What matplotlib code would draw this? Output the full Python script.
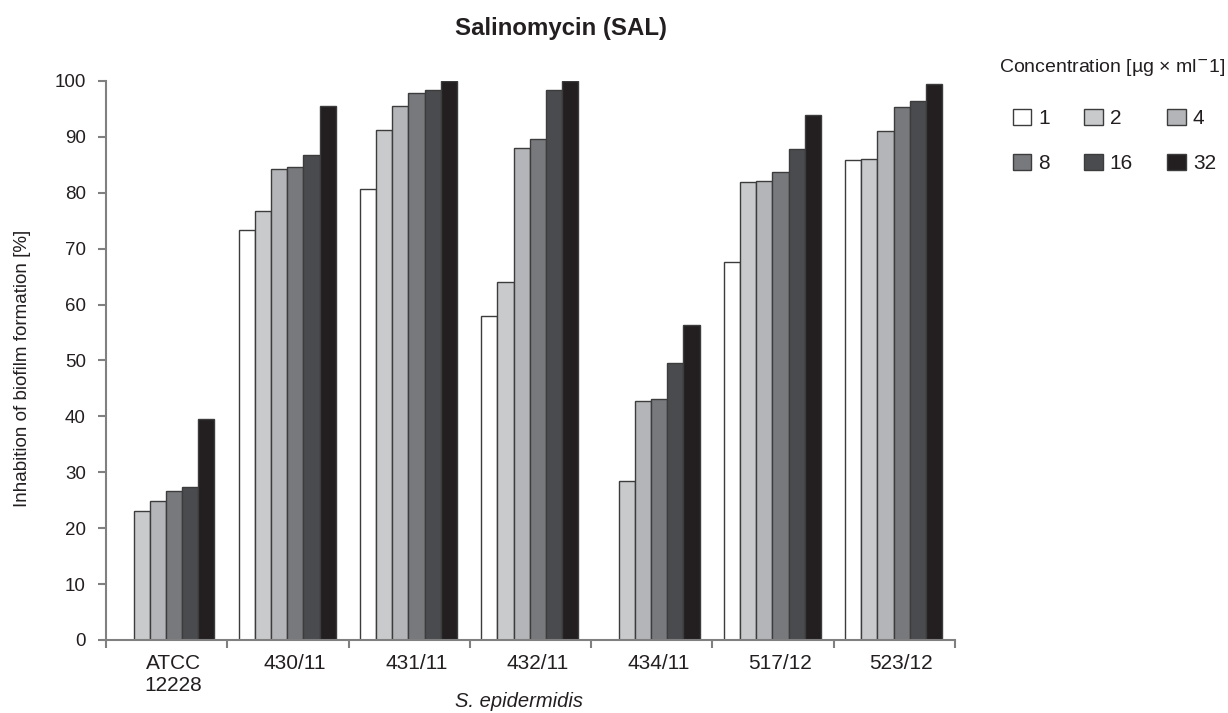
import numpy as np
import matplotlib.pyplot as plt
import matplotlib.transforms as mtransforms
from matplotlib.patches import Patch

plt.rcParams['font.family'] = ['Liberation Sans', 'DejaVu Sans']

strains = ['ATCC\n12228', '430/11', '431/11', '432/11', '434/11', '517/12', '523/12']
concentrations = ['1', '2', '4', '8', '16', '32']

# inhibition [%] per strain, one list per concentration
conc_1 = [0.0, 73.3, 80.6, 58.0, 0.0, 67.7, 85.9]
conc_2 = [23.0, 76.7, 91.2, 64.1, 28.5, 81.9, 86.1]
conc_4 = [24.9, 84.2, 95.6, 88.0, 42.8, 82.1, 91.0]
conc_8 = [26.6, 84.7, 97.9, 89.6, 43.1, 83.8, 95.3]
conc_16 = [27.3, 86.8, 98.4, 98.4, 49.5, 87.8, 96.4]
conc_32 = [39.6, 95.5, 100.0, 100.0, 56.4, 94.0, 99.5]

series = [conc_1, conc_2, conc_4, conc_8, conc_16, conc_32]
colors = ['#ffffff', '#c9cacc', '#b4b5b8', '#78797d', '#4a4b4e', '#231f20']
edge = '#3c3c3c'
axis_col = '#808080'
text_col = '#231f20'

fig = plt.figure(figsize=(12.28, 7.13), dpi=100)
ax = fig.add_axes([0.0863, 0.1024, 0.6914, 0.7840])

x = np.arange(len(strains))
width = 0.8 / len(series)
for i, (vals, c) in enumerate(zip(series, colors)):
    offs = (i - (len(series) - 1) / 2) * width - 0.006
    vals = np.array(vals)
    keep = vals > 0
    ax.bar(x[keep] + offs, vals[keep], width, color=c, edgecolor=edge, linewidth=1.0)

ax.set_xlim(-0.5, len(strains) - 0.5)
ax.set_ylim(0, 100)
ax.set_yticks(np.arange(0, 101, 10))
ax.set_xticks(x)
ax.set_xticklabels(strains)
ax.set_xticks(np.arange(-0.5, len(strains)), minor=True)

for s in ['top', 'right']:
    ax.spines[s].set_visible(False)
for s in ['left', 'bottom']:
    ax.spines[s].set_color(axis_col)
    ax.spines[s].set_linewidth(1.5)

ax.tick_params(axis='y', length=5.5, width=1.5, color=axis_col, labelsize=13.5,
               labelcolor=text_col, pad=9)
ax.tick_params(axis='x', which='major', length=0, labelsize=15,
               labelcolor=text_col, pad=10)
ax.tick_params(axis='x', which='minor', length=6, width=1.5, color=axis_col)

# strain names sit slightly right of the group centres
shift = mtransforms.ScaledTranslation(7 / 100, 0, fig.dpi_scale_trans)
for lab in ax.get_xticklabels():
    lab.set_transform(lab.get_transform() + shift)

ax.set_ylabel('Inhabition of biofilm formation [%]', fontsize=13.5, color=text_col)
ax.yaxis.set_label_coords(-0.088, 0.4866)
ax.set_xlabel('S. epidermidis', fontsize=14.5, style='italic', color=text_col)
ax.xaxis.set_label_coords(0.486, -0.093)

fig.text(561 / 1228, 1 - 28 / 713, 'Salinomycin (SAL)', fontsize=17.3, fontweight='bold',
         color=text_col, ha='center', va='center')

# legend laid out row by row: 1 2 4 / 8 16 32
fig.text(999 / 1228, 1 - 67 / 713, 'Concentration [µg × ml$^{-}$1]', fontsize=14,
         color=text_col, ha='left', va='center')
handles = [Patch(facecolor=c, edgecolor=edge, linewidth=1.0) for c in colors]
order = [0, 3, 1, 4, 2, 5]
leg = fig.legend([handles[i] for i in order], [concentrations[i] for i in order],
                 ncol=3, loc='center left', bbox_to_anchor=(1013 / 1228, 1 - 141 / 713),
                 fontsize=15, frameon=False, handlelength=0.87, handleheight=0.82,
                 handletextpad=0.35, columnspacing=1.65, labelspacing=1.25,
                 borderpad=0, borderaxespad=0)
for t in leg.get_texts():
    t.set_color(text_col)

fig.savefig('out.png', dpi=100)
